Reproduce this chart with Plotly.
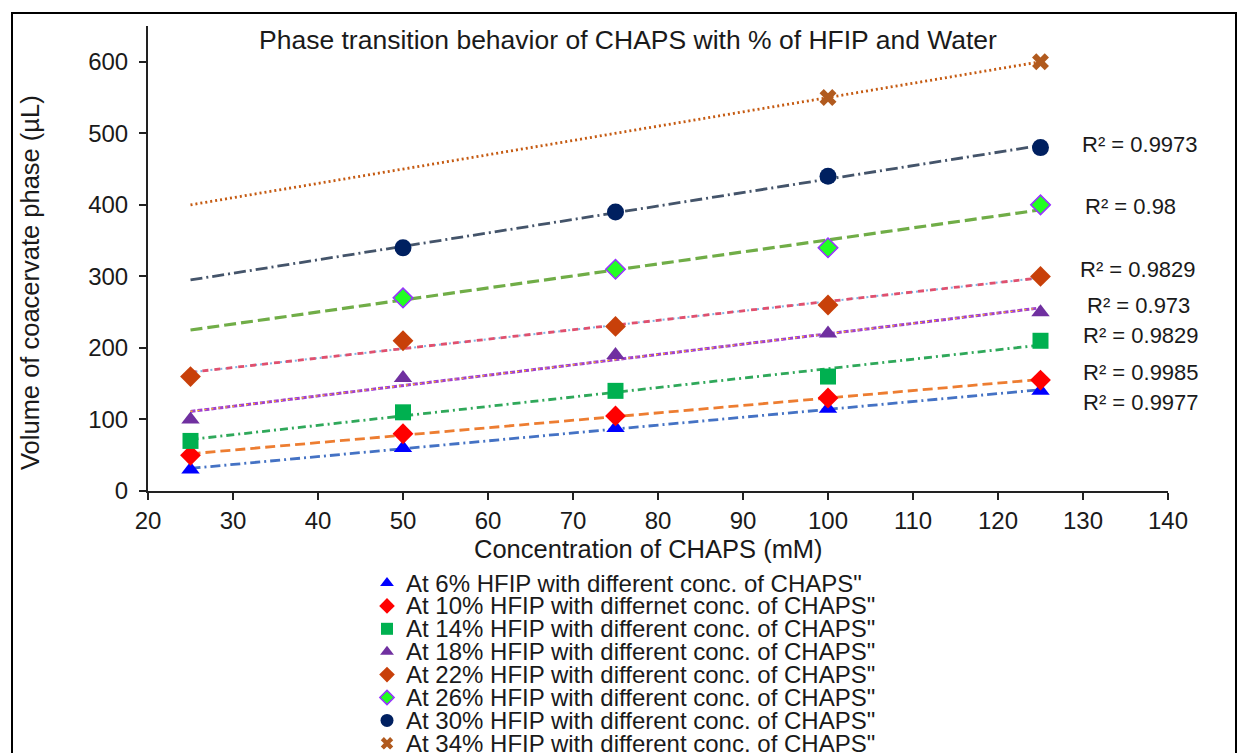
import numpy as np
import plotly.graph_objects as go

# ---- data -------------------------------------------------------------
conc = [25, 50, 75, 100, 125]
vol_6 = [30, 60, 88, 115, 140]
vol_10 = [50, 80, 105, 130, 155]
vol_14 = [70, 110, 140, 160, 210]
vol_18 = [100, 158, 190, 220, 250]
vol_22 = [160, 210, 230, 260, 300]
conc_26 = [50, 75, 100, 125]
vol_26 = [270, 310, 340, 400]
conc_30 = [50, 75, 100, 125]
vol_30 = [340, 390, 440, 480]
conc_34 = [100, 125]
vol_34 = [550, 600]

series_names = [
    'At 6% HFIP with different conc. of CHAPS"',
    'At 10% HFIP with differnet conc. of CHAPS"',
    'At 14% HFIP with different conc. of CHAPS"',
    'At 18% HFIP with different conc. of CHAPS"',
    'At 22% HFIP with different conc. of CHAPS"',
    'At 26% HFIP with different conc. of CHAPS"',
    'At 30% HFIP with different conc. of CHAPS"',
    'At 34% HFIP with different conc. of CHAPS"',
]
r2_labels = ["R² = 0.9977", "R² = 0.9985", "R² = 0.9829", "R² = 0.973",
             "R² = 0.9829", "R² = 0.98", "R² = 0.9973", None]
r2_pos_x = [129.8, 129.8, 129.8, 130.2, 129.4, 130.0, 129.65, None]
r2_pos_y = [124, 166, 217, 259, 309, 397, 484, None]

x_ticks = [20, 30, 40, 50, 60, 70, 80, 90, 100, 110, 120, 130, 140]
y_ticks = [0, 100, 200, 300, 400, 500, 600]

# ---- styles -----------------------------------------------------------
W, H = 1248, 753
FONT = "Liberation Sans, Arial, sans-serif"
TXT = "#1a1a1a"

series = [
    dict(x=conc, y=vol_6, sym="triangle-up", fill="#0000FF", edge="#0000FF", size=16,
         lines=[("#4472C4", 2.8, "10px,4px,2px,4px")]),
    dict(x=conc, y=vol_10, sym="diamond", fill="#FF0000", edge="#FF0000", size=16,
         lines=[("#ED7D31", 2.8, "10px,5px")]),
    dict(x=conc, y=vol_14, sym="square", fill="#00B050", edge="#00B050", size=16,
         lines=[("#2FA85A", 2.8, "8px,4px,2px,4px")]),
    dict(x=conc, y=vol_18, sym="triangle-up", fill="#7030A0", edge="#7030A0", size=16,
         lines=[("#A040D0", 3, "5px,2px"), ("#FFC000", 1.2, "2px,5px")]),
    dict(x=conc, y=vol_22, sym="diamond", fill="#C8400A", edge="#C8400A", size=16,
         lines=[("#7EB6E6", 2, "2px,3px"), ("#E0506E", 2.8, "6px,6px")]),
    dict(x=conc_26, y=vol_26, sym="diamond", fill="#22FF22", edge="#9933FF", size=15,
         lines=[("#70AD47", 3.2, "12px,5px")]),
    dict(x=conc_30, y=vol_30, sym="circle", fill="#002060", edge="#002060", size=17,
         lines=[("#44546A", 2.8, "12px,4px,2px,4px")]),
    dict(x=conc_34, y=vol_34, sym="x", fill="#B15A1E", edge="#B15A1E", size=15,
         lines=[("#C55A11", 2.8, "2px,3px")]),
]

fig = go.Figure()

# linear trend lines spanning the measured concentration range
x_fit = np.array([min(conc), max(conc)], dtype=float)
for s in series:
    slope, icpt = np.polyfit(s["x"], s["y"], 1)
    for color, width, dash in s["lines"]:
        fig.add_trace(go.Scatter(
            x=x_fit, y=slope * x_fit + icpt, mode="lines",
            line=dict(color=color, width=width, dash=dash),
            showlegend=False, hoverinfo="skip"))

# measured points
for s, name in zip(series, series_names):
    fig.add_trace(go.Scatter(
        x=s["x"], y=s["y"], mode="markers", name=name,
        marker=dict(symbol=s["sym"], size=s["size"], color=s["fill"],
                    line=dict(color=s["edge"], width=1.5 if s["edge"] != s["fill"] else 0)),
        showlegend=False))

# legend block drawn below the axes on a pixel-scaled overlay axis
leg_x_marker, leg_x_text, leg_y0, leg_dy = 387, 404, 583, 22.9
leg_rows = [leg_y0 + i * leg_dy for i in range(len(series))]
for s, name, ry in zip(series, series_names, leg_rows):
    fig.add_trace(go.Scatter(
        x=[leg_x_marker], y=[ry], mode="markers", xaxis="x2", yaxis="y2",
        marker=dict(symbol=s["sym"], size=s["size"] - 4, color=s["fill"],
                    line=dict(color=s["edge"], width=1.5 if s["edge"] != s["fill"] else 0)),
        showlegend=False, hoverinfo="skip"))

annotations = []
for name, ry in zip(series_names, leg_rows):
    annotations.append(dict(
        x=leg_x_text, y=ry, xref="x2", yref="y2", text=name, showarrow=False,
        xanchor="left", yanchor="middle", font=dict(family=FONT, size=24, color=TXT)))

for lab, lx, ly in zip(r2_labels, r2_pos_x, r2_pos_y):
    if lab is None:
        continue
    annotations.append(dict(
        x=lx, y=ly, xref="x", yref="y", text=lab, showarrow=False,
        xanchor="left", yanchor="middle", font=dict(family=FONT, size=22, color=TXT)))

annotations += [
    dict(x=628 / W, y=1 - 40 / H, xref="paper", yref="paper",
         text="Phase transition behavior of CHAPS with % of HFIP and Water",
         showarrow=False, xanchor="center", yanchor="middle",
         font=dict(family=FONT, size=26.5, color=TXT)),
    dict(x=648 / W, y=1 - 549 / H, xref="paper", yref="paper",
         text="Concentration of CHAPS (mM)", showarrow=False,
         xanchor="center", yanchor="middle", font=dict(family=FONT, size=25.5, color=TXT)),
    dict(x=30 / W, y=1 - 283 / H, xref="paper", yref="paper",
         text="Volume of coacervate phase (µL)", showarrow=False, textangle=-90,
         xanchor="center", yanchor="middle", font=dict(family=FONT, size=25.5, color=TXT)),
]

fig.update_layout(
    width=W, height=H,
    margin=dict(l=0, r=0, t=0, b=0, autoexpand=False),
    paper_bgcolor="white", plot_bgcolor="rgba(0,0,0,0)",
    font=dict(family=FONT, color=TXT),
    showlegend=False,
    xaxis=dict(
        domain=[148 / W, 1168 / W], range=[20, 140],
        tickvals=x_ticks, ticks="outside", ticklen=7, tickwidth=2, tickcolor="#222",
        showline=True, linecolor="#222", linewidth=2, showgrid=False, zeroline=False,
        tickfont=dict(family=FONT, size=24, color=TXT), anchor="y"),
    yaxis=dict(
        domain=[1 - 491 / H, 1 - 26 / H], range=[0, 650],
        tickvals=y_ticks, ticks="outside", ticklen=7, tickwidth=2, tickcolor="#222",
        showline=True, linecolor="#222", linewidth=2, showgrid=False, zeroline=False,
        ticklabelstandoff=6,
        tickfont=dict(family=FONT, size=24, color=TXT), anchor="x"),
    xaxis2=dict(domain=[0, 1], range=[0, W], visible=False, anchor="y2", fixedrange=True),
    yaxis2=dict(domain=[0, 1], range=[H, 0], visible=False, anchor="x2", fixedrange=True),
    annotations=annotations,
    shapes=[dict(type="rect", xref="paper", yref="paper",
                 x0=12 / W, x1=1236 / W, y0=-0.1, y1=1 - 13 / H,
                 line=dict(color="black", width=2), fillcolor="rgba(0,0,0,0)")],
)

fig.write_html("out.html")
